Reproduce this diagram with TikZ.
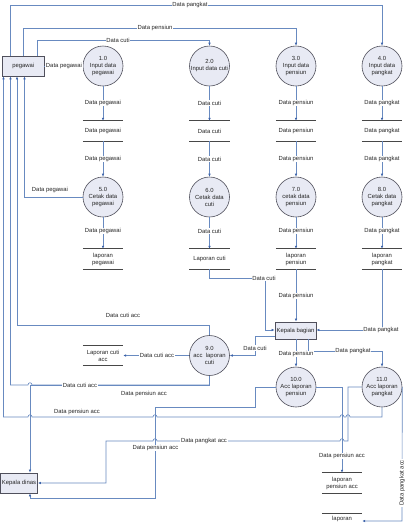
\documentclass[tikz,border=0pt]{standalone}
\usepackage{fontspec}
\setmainfont{Liberation Sans}
\usetikzlibrary{arrows.meta}
\definecolor{flow}{RGB}{104,138,192}
\definecolor{tipc}{RGB}{62,100,170}
\definecolor{bord}{RGB}{80,80,92}
\definecolor{fillc}{RGB}{232,234,244}
\begin{document}
\begin{tikzpicture}[x=1pt,y=-1pt,
 every node/.style={font=\fontsize{5.9}{7}\selectfont, text=black!85},
 proc/.style={circle, draw=bord, fill=fillc, line width=0.6pt, minimum size=40pt, inner sep=0pt, align=center},
 ent/.style={draw=bord, fill=fillc, line width=0.8pt, inner sep=0pt, align=center},
 store/.style={minimum width=40pt, minimum height=20pt, inner sep=0pt, align=center},
 sline/.style={draw=black!72, line width=0.7pt},
 flw/.style={draw=flow, line width=0.6pt, -{Latex[length=3pt,width=2.6pt,color=tipc]}},
 lbl/.style={fill=white, inner sep=0.6pt},
 plain/.style={inner sep=0.6pt}
]
\fill[white] (0,0) rectangle (407,523);
\useasboundingbox (0,0) rectangle (407,523);

% entities
\node[ent, minimum width=41.5pt, minimum height=20pt] (peg) at (23.25,66) {pegawai};
\node[ent, minimum width=41pt, minimum height=17pt] (kb) at (295.5,330.5) {Kepala bagian};
\node[ent, minimum width=37pt, minimum height=20pt] (kd) at (19,483) {Kepala dinas};

% processes
\node[proc] (p1) at (103,66) {1.0\\Input data\\pegawai};
\node[proc] (p2) at (209.5,66) {2.0\\Input data cuti};
\node[proc] (p3) at (296,66) {3.0\\Input data\\pensiun};
\node[proc] (p4) at (382,66) {4.0\\Input data\\pangkat};
\node[proc] (p5) at (103,197) {5.0\\Cetak data\\pegawai};
\node[proc] (p6) at (209.5,197) {6.0\\Cetak data\\cuti};
\node[proc] (p7) at (296,197) {7.0\\cetak data\\pensiun};
\node[proc] (p8) at (382,197) {8.0\\Cetak data\\pangkat};
\node[proc] (p9) at (209.5,355.5) {9.0\\acc\ \ laporan\\cuti};
\node[proc] (p10) at (296,387) {10.0\\Acc laporan\\pensiun};
\node[proc] (p11) at (382,387) {11.0\\Acc laporan\\pangkat};

% stores
\node[store] (s1) at (103,131) {Data pegawai};
\node[store] (s2) at (209.5,131) {Data cuti};
\node[store] (s3) at (296,131) {Data pensiun};
\node[store] (s4) at (382,131) {Data pangkat};
\node[store] (r1) at (103,259) {laporan\\pegawai};
\node[store] (r2) at (209.5,259) {Laporan cuti};
\node[store] (r3) at (296,259) {laporan\\pensiun};
\node[store] (r4) at (382,259) {laporan\\pangkat};
\node[store] (sacc) at (103,355.5) {Laporan cuti\\acc};
\node[store] (spa) at (342,483) {laporan\\pensiun acc};
\node[store, minimum height=11pt, anchor=north] (sb) at (342,513) {laporan};
\foreach \s in {s1,s2,s3,s4,r1,r2,r3,r4,sacc,spa,sb}
  \draw[sline] (\s.north west) -- (\s.north east) (\s.south west) -- (\s.south east);

% top flows from pegawai
\draw[flw] (peg.north -| 10,0) -- (10,5) -- (382,5) -- (p4.north);
\draw[flw] (peg.north -| 23,0) -- (23,28) -- (296,28) -- (p3.north);
\draw[flw] (peg.north -| 37,0) -- (37,40) -- (209.5,40) -- (p2.north);
\draw[flw] (peg.east) -- (p1.west);

% vertical chains
\foreach \a/\b in {p1/s1,p2/s2,p3/s3,p4/s4,s1/p5,s2/p6,s3/p7,s4/p8,p5/r1,p6/r2,p7/r3,p8/r4}
  \draw[flw] (\a.south) -- (\b.north);

% 5.0 back to pegawai
\draw[flw] (p5.west) -- (24.5,197) -- (peg.south -| 24.5,0);

% reports to Kepala bagian
\draw[flw] (r2.south) -- (209.5,278) -- (265,278) -- (265,330) -- (kb.west |- 0,330);
\draw[flw] (r3.south) -- (r3.south |- kb.north);
\draw[flw] (r4.south) -- (382,330) -- (kb.east |- 0,330);

% Kepala bagian outputs
\draw[flw] (kb.west |- 0,336) -- (255,336) -- (255,355.5) -- (p9.east);
\draw[flw] (kb.south -| 296,0) -- (p10.north);
\draw[flw] (kb.south -| 308,0) -- (308,351) -- (382,351) -- (p11.north);

% 9.0 outputs
\draw[flw] (p9.west) -- (sacc.east);
\draw[flw] (p9.north) -- (209.5,325) -- (17,325) -- (peg.south -| 17,0);
\draw[flw] (p9.south) -- (209.5,385) -- (30,385) -- (kd.north -| 30,0);
\draw[flw] (p9.south) -- (209.5,385) -- (32,385) .. controls (32,382) and (28,382) .. (28,385) -- (10.5,385) -- (peg.south -| 10.5,0);

% 10.0 outputs
\draw[flw] (p10.west) -- (255,387) -- (255,407) -- (155,407) -- (155,498) -- (30,498) -- (kd.south -| 30,0);
\draw[flw] (p10.east) -- (342,387) -- (spa.north -| 342,0);

% 11.0 outputs
\draw[flw] (p11.south) -- (382,417) -- (350,417) .. controls (350,414) and (346,414) .. (346,417)
  -- (344,417) .. controls (344,414) and (340,414) .. (340,417)
  -- (157,417) .. controls (157,414) and (153,414) .. (153,417)
  -- (32,417) .. controls (32,414) and (28,414) .. (28,417)
  -- (3.5,417) -- (peg.south -| 3.5,0);
\draw[flw] (p11.west) -- (348,387) -- (348,441) -- (344,441) .. controls (344,438) and (340,438) .. (340,441)
  -- (157,441) .. controls (157,438) and (153,438) .. (153,441)
  -- (106,441) -- (106,483) -- (kd.east);
\draw[flw] (p11.east) -- (402,521) -- (sb.east |- 0,521);

% flow labels
\foreach \x/\t [count=\i] in {103/Data pegawai,209.5/Data cuti,296/Data pensiun,382/Data pangkat}{
  \node[lbl] (la\i) at (\x,103) {\t};
  \node[lbl] (lb\i) at (\x,159) {\t};
  \node[lbl] (lc\i) at (\x,231) {\t};
}
\node[lbl] (t1) at (190,5) {Data pangkat};
\node[lbl] (t2) at (155,28) {Data pensiun};
\node[lbl] (t3) at (118,40) {Data cuti};
\node[lbl] (t4) at (64,66) {Data pegawai};
\node[plain] (t5) at (50,190) {Data pegawai};
\node[lbl] (t6) at (264,278) {Data cuti};
\node[lbl] (t7) at (296,296) {Data pensiun};
\node[lbl] (t8) at (381,330) {Data pangkat};
\node[lbl] (t9) at (255,348) {Data cuti};
\node[lbl] (t10) at (296,354) {Data pensiun};
\node[lbl] (t11) at (353,351) {Data pangkat};
\node[plain] (t12) at (123,315) {Data cuti acc};
\node[lbl] (t13) at (157,355.5) {Data cuti acc};
\node[lbl] (t14) at (80,385) {Data cuti acc};
\node[plain] (t15) at (144,394) {Data pensiun acc};
\node[plain] (t16) at (77,412) {Data pensiun acc};
\node[lbl] (t17) at (204,441) {Data pangkat acc};
\node[lbl] (t18) at (155.5,448) {Data pensiun acc};
\node[lbl] (t19) at (342,456) {Data pensiun acc};
\node[lbl, rotate=90] (t20) at (402,483) {Data pangkat acc};
\end{tikzpicture}
\end{document}
